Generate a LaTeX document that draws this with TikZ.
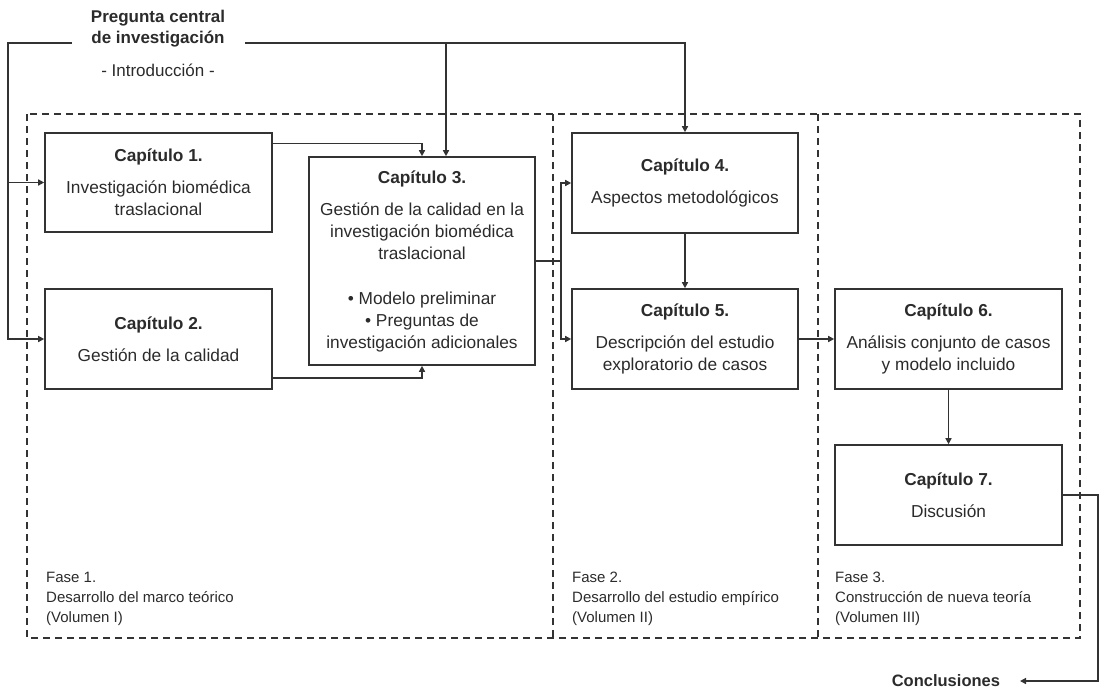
\documentclass[tikz,border=0pt]{standalone}
\usepackage{fontspec}
\setmainfont{Liberation Sans}
\usetikzlibrary{arrows.meta,calc}
\definecolor{ink}{HTML}{2B2B2B}
\definecolor{rule}{HTML}{333333}
\begin{document}
\begin{tikzpicture}[x=1pt,y=-1pt,
  >={Triangle[length=6pt,width=6pt]},
  chapbox/.style={draw=rule,line width=1.6pt,minimum width=227pt,minimum height=100pt,
    align=center,inner sep=0pt,text=ink,font=\fontsize{17.3}{22}\selectfont},
  conn/.style={draw=rule,line width=1.4pt},
  frame/.style={draw=rule,line width=1.2pt,dash pattern=on 7pt off 5pt},
  phase/.style={anchor=north west,inner sep=0pt,align=left,text=ink,
    font=\fontsize{15}{20}\selectfont},
  headline/.style={inner sep=0pt,align=center,text=ink}]
\useasboundingbox (0,0) rectangle (1100,689);

% phase frame and its dividers
\draw[frame] (27,114) rectangle (1080,638);
\draw[frame] (553,114) -- (553,638);
\draw[frame] (818,114) -- (818,638);

% heading
\node[headline,font=\fontsize{17}{21}\selectfont\bfseries] (q) at (158,29)
  {Pregunta central\\de investigación};
\node[headline,font=\fontsize{17}{21}\selectfont] (intro) at (158,70) {- Introducción -};
\coordinate (qL) at (72,43);
\coordinate (qR) at (245,43);

% chapters
\node[chapbox,minimum height=99pt] (cap1) at (158.5,182.5)
  {\textbf{Capítulo 1.}\\[10pt]Investigación biomédica\\traslacional};
\node[chapbox] (cap2) at (158.5,339)
  {\textbf{Capítulo 2.}\\[10pt]Gestión de la calidad};
\node[chapbox,minimum width=226pt,minimum height=208pt] (cap3) at (422,261)
  {\textbf{Capítulo 3.}\\[10pt]Gestión de la calidad en la\\investigación biomédica\\traslacional\\[23pt]
   • Modelo preliminar\\• Preguntas de\\investigación adicionales};
\node[chapbox,minimum width=226pt] (cap4) at (685,183)
  {\textbf{Capítulo 4.}\\[10pt]Aspectos metodológicos};
\node[chapbox,minimum width=226pt] (cap5) at (685,339)
  {\textbf{Capítulo 5.}\\[10pt]Descripción del estudio\\exploratorio de casos};
\node[chapbox] (cap6) at (948.5,339)
  {\textbf{Capítulo 6.}\\[10pt]Análisis conjunto de casos\\y modelo incluido};
\node[chapbox] (cap7) at (948.5,495)
  {\textbf{Capítulo 7.}\\[10pt]Discusión};

% phase captions
\node[phase] (f1) at (46,572) {Fase 1.\\Desarrollo del marco teórico\\(Volumen I)};
\node[phase] (f2) at (572,572) {Fase 2.\\Desarrollo del estudio empírico\\(Volumen II)};
\node[phase] (f3) at (835,572) {Fase 3.\\Construcción de nueva teoría\\(Volumen III)};

% closing label
\node[headline,anchor=east,outer xsep=20pt,font=\fontsize{16.5}{20}\selectfont\bfseries]
  (concl) at (1020,681) {Conclusiones};

% connectors from the central question
\coordinate (lc) at (8,43);
\draw[conn,->] (qL) -- (lc) |- (cap2.west);
\draw[conn,->] (lc |- cap1.west) -- (cap1.west);
\draw[conn,->] (qR) -| (cap4.north);
\coordinate (t3) at ($(cap3.north)+(24,0)$);
\draw[conn,->] (t3 |- qR) -- (t3);

% chapters 1 and 2 into chapter 3
\draw[conn,->] ($(cap1.north east)+(0,11)$) -| (cap3.north);
\draw[conn,->] ($(cap2.south east)+(0,-12)$) -| (cap3.south);

% chapter 3 into chapters 4 and 5
\coordinate (split) at ($(cap3.east)+(25,0)$);
\draw[conn] (cap3.east) -- (split);
\draw[conn,->] (split) |- (cap4.west);
\draw[conn,->] (split) |- (cap5.west);

% empirical and theory chain
\draw[conn,->] (cap4.south) -- (cap5.north);
\draw[conn,->] (cap5.east) -- (cap6.west);
\draw[conn,->] (cap6.south) -- (cap7.north);
\coordinate (rr) at ($(cap7.east)+(35,0)$);
\draw[conn,->] (cap7.east) -- (rr) |- (concl.east);
\end{tikzpicture}
\end{document}
